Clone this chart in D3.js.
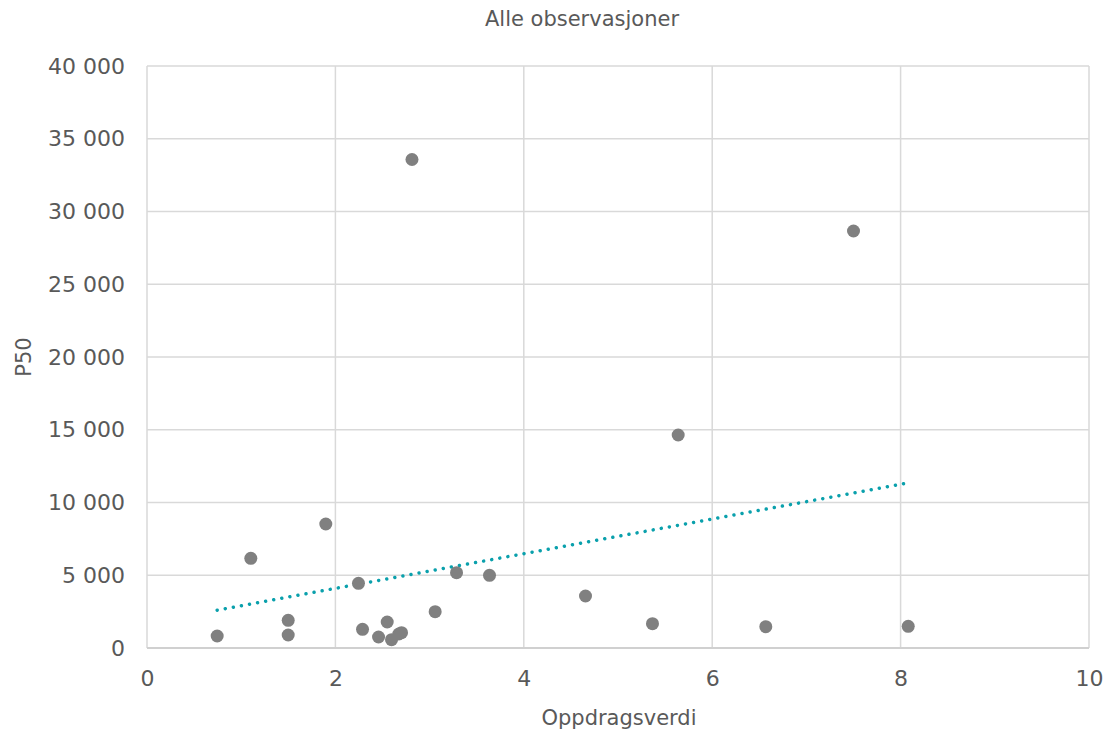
<!DOCTYPE html>
<html>
<head>
<meta charset="utf-8">
<script src="https://cdn.jsdelivr.net/npm/d3@7"></script>
<style>
  html, body { margin: 0; padding: 0; background: #ffffff; }
  svg { display: block; }
  text { font-family: "DejaVu Sans", sans-serif; fill: #595959; }
</style>
</head>
<body>
<svg id="chart" width="1108" height="731"></svg>
<script>
// ---- data ----
const chartTitle = "Alle observasjoner";
const xLabel = "Oppdragsverdi";
const yLabel = "P50";
const xTicks = [0, 2, 4, 6, 8, 10];
const yTicks = [0, 5000, 10000, 15000, 20000, 25000, 30000, 35000, 40000];
const oppdragsverdi = [0.745, 1.102, 1.499, 1.499, 1.898, 2.245, 2.288, 2.458, 2.550, 2.596, 2.673,
                       2.702, 2.813, 3.059, 3.286, 3.636, 4.655, 5.366, 5.639, 6.569, 7.500, 8.081];
const p50 =           [825, 6165, 1904, 893, 8522, 4447, 1285, 756, 1787, 570, 962,
                       1052, 33574, 2495, 5175, 4997, 3574, 1670, 14639, 1464, 28660, 1491];

(function () {
// ---- layout ----
const svg = d3.select("#chart");
const mLeft = 147, mRight = 1089, mTop = 66, mBottom = 648;

const x = d3.scaleLinear().domain([0, 10]).range([mLeft, mRight]);
const y = d3.scaleLinear().domain([0, 40000]).range([mBottom, mTop]);

const fmt = v => d3.format(",")(v).replace(/,/g, " ");

// gridlines
const grid = svg.append("g");
grid.selectAll("line.h").data(yTicks).join("line").attr("class", "h")
  .attr("x1", mLeft).attr("x2", mRight)
  .attr("y1", d => y(d)).attr("y2", d => y(d))
  .attr("stroke", "#d9d9d9").attr("stroke-width", 1.5);
grid.selectAll("line.v").data(xTicks).join("line").attr("class", "v")
  .attr("y1", mTop).attr("y2", mBottom)
  .attr("x1", d => x(d)).attr("x2", d => x(d))
  .attr("stroke", "#d9d9d9").attr("stroke-width", 1.5);

// axes (labels only)
const yAxis = d3.axisLeft(y).tickValues(yTicks).tickFormat(fmt).tickSize(0).tickPadding(22);
const gy = svg.append("g").attr("transform", `translate(${mLeft},0)`).call(yAxis);
gy.select(".domain").remove();
gy.selectAll("text").style("font-size", "22px").attr("fill", "#595959")
  .style("font-family", "DejaVu Sans, sans-serif");

const xAxis = d3.axisBottom(x).tickValues(xTicks).tickFormat(d3.format("d")).tickSize(0).tickPadding(22);
const gx = svg.append("g").attr("transform", `translate(0,${mBottom})`).call(xAxis);
gx.select(".domain").remove();
gx.selectAll("text").style("font-size", "22px").attr("fill", "#595959")
  .style("font-family", "DejaVu Sans, sans-serif");

// bottom axis line
svg.append("line").attr("x1", mLeft).attr("x2", mRight).attr("y1", y(0)).attr("y2", y(0))
  .attr("stroke", "#d0d0d0").attr("stroke-width", 2);

// linear trendline (least squares)
const n = oppdragsverdi.length;
const mx = d3.mean(oppdragsverdi), my = d3.mean(p50);
let sxy = 0, sxx = 0;
for (let i = 0; i < n; i++) {
  sxy += (oppdragsverdi[i] - mx) * (p50[i] - my);
  sxx += (oppdragsverdi[i] - mx) ** 2;
}
const slope = sxy / sxx, intercept = my - slope * mx;
const xExt = d3.extent(oppdragsverdi);
const trend = xExt.map(v => [v, intercept + slope * v]);

svg.append("path")
  .datum(trend)
  .attr("d", d3.line().x(d => x(d[0])).y(d => y(d[1])))
  .attr("fill", "none")
  .attr("stroke", "#0aa0ac")
  .attr("stroke-width", 3.5)
  .attr("stroke-linecap", "round")
  .attr("stroke-dasharray", "0.01 8.2");

// points
svg.append("g").selectAll("circle")
  .data(oppdragsverdi.map((v, i) => [v, p50[i]]))
  .join("circle")
  .attr("cx", d => x(d[0])).attr("cy", d => y(d[1]))
  .attr("r", 6.5)
  .attr("fill", "#808080");

// titles
svg.append("text").attr("x", 582).attr("y", 26).attr("text-anchor", "middle")
  .style("font-size", "21px").text(chartTitle);
svg.append("text").attr("x", 619).attr("y", 725).attr("text-anchor", "middle")
  .style("font-size", "21px").text(xLabel);
svg.append("text").attr("transform", "translate(31,357) rotate(-90)").attr("text-anchor", "middle")
  .style("font-size", "21px").text(yLabel);
})();
</script>
</body>
</html>
